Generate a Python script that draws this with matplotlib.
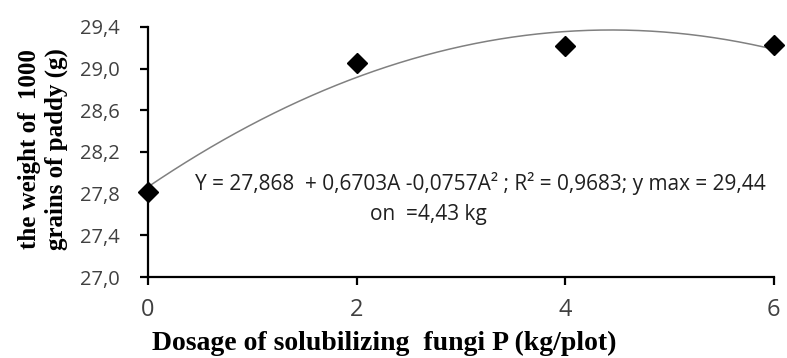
import matplotlib
matplotlib.use("Agg")
import matplotlib.pyplot as plt
import numpy as np
from matplotlib.ticker import FuncFormatter, FixedLocator

# data
dosage = [0, 2, 4, 6]
weight = [27.82, 29.05, 29.22, 29.23]
x_ticks = [0, 2, 4, 6]
y_ticks = [27.0, 27.4, 27.8, 28.2, 28.6, 29.0, 29.4]

eq_line1 = "Y = 27,868  + 0,6703A -0,0757A\u00b2 ; R\u00b2 = 0,9683; y max = 29,44"
eq_line2 = "on  =4,43 kg"

fig = plt.figure(figsize=(7.87, 3.58), dpi=100)
ax = fig.add_axes([0.188, 0.226, 0.795, 0.699])

# polynomial trendline (order 2) fitted on the points, as excel does
coef = np.polyfit(dosage, weight, 2)
xs = np.linspace(min(dosage), max(dosage), 200)
ax.plot(xs, np.polyval(coef, xs), color="#808080", lw=1.1, zorder=2)

ax.plot(dosage, weight, linestyle="none", marker="D", markersize=10.5,
        color="black", zorder=3, clip_on=False)

ax.set_xlim(0, 6)
ax.set_ylim(27.0, 29.4)
ax.xaxis.set_major_locator(FixedLocator(x_ticks))
ax.yaxis.set_major_locator(FixedLocator(y_ticks))
ax.yaxis.set_major_formatter(FuncFormatter(lambda v, p: f"{v:.1f}".replace(".", ",")))
ax.xaxis.set_major_formatter(FuncFormatter(lambda v, p: f"{v:.0f}"))

for s in ["top", "right"]:
    ax.spines[s].set_visible(False)
for s in ["left", "bottom"]:
    ax.spines[s].set_linewidth(1.6)
    ax.spines[s].set_color("black")

ax.tick_params(axis="y", direction="out", length=6, width=1.6, pad=14,
               labelsize=14.5, labelcolor="#404040")
ax.tick_params(axis="x", direction="out", length=6, width=1.6, pad=9,
               labelsize=17, labelcolor="#404040")
for lab in ax.get_xticklabels() + ax.get_yticklabels():
    lab.set_fontfamily("Open Sans")

ax.set_xlabel("Dosage of solubilizing  fungi P (kg/plot)", fontfamily="Liberation Serif",
              fontweight="bold", fontsize=20)
ax.xaxis.set_label_coords(0.377, -0.215)
ax.set_ylabel("the weight of  1000\ngrains of paddy (g)", fontfamily="Liberation Serif",
              fontweight="bold", fontsize=18, linespacing=1.2)
ax.yaxis.set_label_coords(-0.128, 0.51)

ax.text(3.19, 27.90, eq_line1, ha="center", va="center", fontsize=15,
        fontfamily="Open Sans", color="#202020")
ax.text(2.69, 27.60, eq_line2, ha="center", va="center", fontsize=15,
        fontfamily="Open Sans", color="#202020")

fig.savefig("out.png", dpi=100)
